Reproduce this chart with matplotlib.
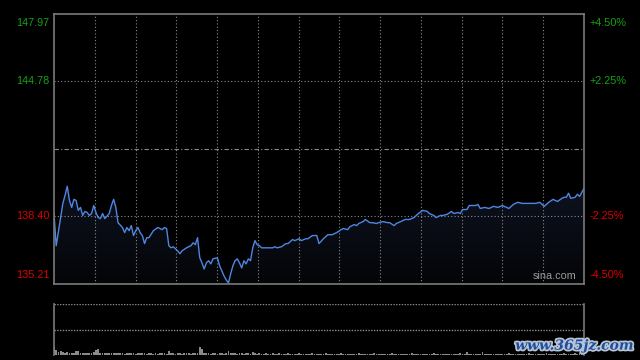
import matplotlib
matplotlib.use("Agg")
import matplotlib.pyplot as plt
import matplotlib.transforms as mtransforms
import matplotlib.patheffects as pe
from matplotlib.colors import LinearSegmentedColormap
import numpy as np

# intraday minute index (0..240) and price
minutes = [0, 1, 3, 4, 5, 6, 7, 8, 9, 10,
           11, 12, 13, 14, 15, 16, 17, 18, 19, 20,
           21, 22, 23, 25, 26, 27, 28, 29, 31, 32,
           33, 34, 35, 36, 37, 38, 39, 40, 41, 42,
           43, 45, 47, 49, 50, 51, 52, 53, 54, 56,
           57, 58, 60, 62, 63, 64, 65, 66, 67, 68,
           69, 70, 71, 72, 74, 75, 76, 77, 78, 79,
           80, 81, 82, 83, 84, 85, 86, 87, 88, 89,
           90, 91, 92, 93, 94, 96, 97, 99, 100, 101,
           103, 105, 106, 108, 109, 111, 112, 114, 115, 117,
           119, 120, 122, 124, 126, 128, 130, 131, 133, 134,
           136, 137, 138, 140, 141, 143, 144, 146, 147, 149,
           151, 152, 154, 155, 157, 159, 161, 163, 165, 167,
           169, 170, 172, 173, 175, 176, 178, 180, 181, 183,
           184, 185, 187, 188, 189, 191, 192, 193, 195, 197,
           199, 201, 203, 206, 208, 210, 212, 214, 216, 218,
           220, 222, 224, 226, 228, 230, 231, 232, 233, 234,
           236, 237, 238, 240]
prices = [138.54, 137.02, 138.35, 139.02, 139.40, 139.83, 139.16, 138.83, 139.21, 139.16,
          138.69, 138.83, 138.45, 138.64, 138.59, 138.45, 138.54, 138.92, 138.59, 138.35,
          138.30, 138.54, 138.30, 138.54, 138.92, 139.21, 138.83, 138.11, 137.88, 137.64,
          137.88, 137.73, 137.97, 137.50, 137.73, 137.88, 137.64, 137.50, 137.12, 137.40,
          137.40, 137.73, 137.88, 137.78, 137.88, 137.83, 137.02, 136.92, 136.97, 136.78,
          136.64, 136.78, 136.92, 137.02, 137.16, 137.07, 137.40, 136.45, 136.21, 135.92,
          136.21, 136.31, 136.16, 136.40, 136.45, 136.07, 135.83, 135.59, 135.40, 135.26,
          135.69, 136.07, 136.31, 136.40, 136.21, 135.97, 136.31, 136.16, 136.40, 136.31,
          136.92, 137.26, 137.07, 137.02, 136.92, 136.92, 136.92, 136.92, 136.97, 136.92,
          136.97, 137.12, 137.12, 137.31, 137.26, 137.35, 137.26, 137.35, 137.35, 137.50,
          137.50, 137.12, 137.35, 137.54, 137.54, 137.64, 137.78, 137.83, 137.78, 137.92,
          138.02, 137.97, 138.07, 138.16, 138.26, 138.11, 138.11, 138.07, 138.11, 138.16,
          138.11, 138.11, 137.97, 138.07, 138.16, 138.26, 138.26, 138.35, 138.54, 138.69,
          138.64, 138.54, 138.45, 138.35, 138.45, 138.45, 138.50, 138.64, 138.54, 138.59,
          138.54, 138.73, 138.73, 138.92, 138.92, 138.92, 138.97, 138.78, 138.83, 138.78,
          138.88, 138.83, 138.92, 138.78, 138.97, 139.07, 139.02, 139.02, 139.02, 139.02,
          139.07, 138.88, 139.07, 139.21, 139.11, 139.26, 139.31, 139.31, 139.50, 139.26,
          139.31, 139.45, 139.35, 139.73]

# per-minute volume (hundreds of lots)
volume = [16, 10, 5, 7, 6, 4, 6, 3, 4, 3, 8, 8, 3, 4, 3, 3, 4, 3, 5, 10,
          12, 4, 3, 3, 3, 4, 3, 4, 3, 3, 3, 3, 2, 3, 3, 4, 3, 2, 3, 3,
          3, 3, 2, 3, 3, 2, 3, 2, 3, 3, 3, 2, 8, 3, 3, 2, 3, 3, 2, 3,
          3, 3, 2, 3, 3, 4, 15, 12, 4, 3, 3, 2, 3, 3, 2, 3, 3, 2, 3, 8,
          4, 3, 3, 2, 3, 3, 2, 3, 3, 2, 6, 3, 2, 3, 2, 2, 3, 2, 2, 3,
          2, 2, 3, 2, 2, 2, 3, 2, 2, 2, 2, 3, 2, 2, 2, 2, 2, 3, 2, 2,
          2, 2, 2, 3, 2, 2, 2, 2, 2, 2, 3, 2, 2, 2, 2, 2, 2, 2, 3, 2,
          2, 2, 2, 2, 2, 3, 2, 2, 2, 2, 2, 2, 2, 3, 2, 2, 2, 2, 2, 2,
          2, 2, 3, 2, 2, 2, 2, 2, 2, 2, 2, 2, 3, 2, 2, 2, 2, 2, 2, 2,
          2, 2, 2, 2, 3, 2, 2, 5, 2, 2, 2, 2, 2, 2, 5, 2, 2, 2, 2, 2,
          2, 2, 2, 2, 2, 2, 3, 2, 2, 2, 2, 2, 2, 2, 2, 3, 2, 2, 2, 2,
          2, 2, 2, 3, 2, 2, 2, 2, 2, 2, 2, 3, 2, 2, 2, 2, 3, 2, 3, 3,
          4]

prev_close = 141.59
price_levels = [147.97, 144.78, 138.40, 135.21]
pct_labels = ["+4.50%", "+2.25%", "-2.25%", "-4.50%"]
level_colors = ["#14a014", "#14a014", "#dc0000", "#dc0000"]

BG = "black"
BORDER = "#7a7a7a"
GRID = "#8a8a8a"
LINE = "#4f86e0"

fig = plt.figure(figsize=(6.4, 3.6), dpi=100, facecolor=BG)
ax = fig.add_axes([54 / 640, 1 - 284 / 360, 530 / 640, 270 / 360], facecolor=BG)
axv = fig.add_axes([54 / 640, 1 - 355 / 360, 530 / 640, 51 / 360], facecolor=BG)

# price panel: gradient fill under the line
poly = ax.fill_between(minutes, prices, price_levels[-1], color="none", lw=0)
grad_cmap = LinearSegmentedColormap.from_list("g", ["#040507", "#0d1220"])
img = ax.imshow(np.linspace(0, 1, 100).reshape(-1, 1), cmap=grad_cmap, aspect="auto",
                origin="lower", extent=[0, 240, price_levels[-1], max(prices)], zorder=1)
img.set_clip_path(poly.get_paths()[0], transform=ax.transData)
ax.plot(minutes, prices, color=LINE, lw=1.0, zorder=3)
ax.set_xlim(0, 240)
ax.set_ylim(price_levels[-1], price_levels[0])
for sp in ax.spines.values():
    sp.set_color(BORDER)
    sp.set_linewidth(1.2)
    sp.set_zorder(4)
ax.set_xticks(np.linspace(0, 240, 14)[1:-1])
ax.set_yticks([])
ax.tick_params(length=0, labelbottom=False, labelleft=False)
ax.grid(axis="x", color=GRID, linestyle=(0, (1, 2)), lw=0.8, zorder=2)
ax.set_axisbelow(False)
for lv in price_levels[1:3]:
    ax.axhline(lv, color=GRID, linestyle=(0, (1, 2)), lw=0.8, zorder=2)
ax.axhline(prev_close, color=GRID, linestyle=(0, (4, 2, 1, 2)), lw=0.8, zorder=2)

tr = mtransforms.blended_transform_factory(ax.transAxes, ax.transData)
vas = ["top", "center", "center", "bottom"]
offs = [-0.2, 0, 0, 0.2]
for lv, pl, c, va, o in zip(price_levels, pct_labels, level_colors, vas, offs):
    ax.text(-0.008, lv + o, f"{lv:.2f}", color=c, ha="right", va=va,
            fontsize=7.8, family="Liberation Sans", transform=tr)
    ax.text(1.01, lv + o, pl, color=c, ha="left", va=va,
            fontsize=7.8, family="Liberation Sans", transform=tr)

ax.text(0.985, 0.012, "sina.com", color="#9a9a9a", ha="right", va="bottom",
        fontsize=7.8, family="Liberation Sans", transform=ax.transAxes, zorder=5)

# volume panel
axv.bar(range(len(volume)), volume, width=0.8, color="#8a8a8a")
axv.set_xlim(0, 240)
axv.set_ylim(0, 100)
axv.set_xticks([])
axv.set_yticks([])
for side in ["top", "bottom"]:
    axv.spines[side].set_visible(False)
for side in ["left", "right"]:
    axv.spines[side].set_color(BORDER)
    axv.spines[side].set_linewidth(1.2)
for lv in [0, 50, 100]:
    axv.axhline(lv, color=GRID, linestyle=(0, (1, 1)), lw=1.0)

fig.text(0.99, 0.04, "www.365jz.com", color="#1d4f9e", ha="right", va="center",
         fontsize=10, family="DejaVu Serif", fontweight="bold", style="italic",
         path_effects=[pe.withStroke(linewidth=2.5, foreground="#b8c4d4")])

fig.savefig("out.png", dpi=100, facecolor=BG)
